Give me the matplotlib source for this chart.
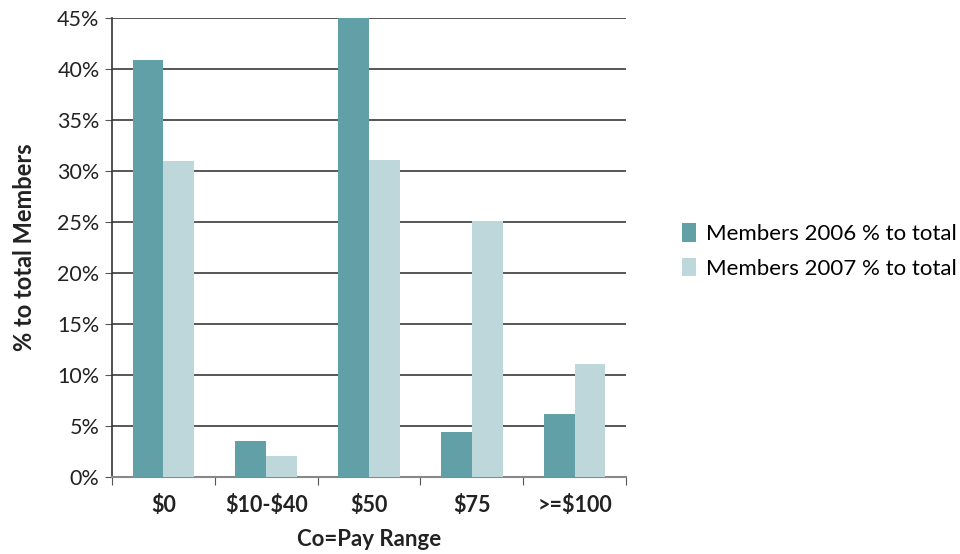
import matplotlib.pyplot as plt
import numpy as np

plt.rcParams['font.family'] = ['Lato', 'DejaVu Sans']

categories = ["\\$0", "\\$10-\\$40", "\\$50", "\\$75", ">=\\$100"]
members_2006 = [40.9, 3.5, 45.0, 4.4, 6.2]
members_2007 = [31.0, 2.1, 31.1, 25.1, 11.1]
y_ticks = [0, 5, 10, 15, 20, 25, 30, 35, 40, 45]

c2006 = "#62A0A8"
c2007 = "#BDD7DB"

fig = plt.figure(figsize=(9.6, 5.54), dpi=100)
ax = fig.add_axes([112 / 960, 1 - 477 / 554, 514 / 960, 459 / 554])

x = np.arange(len(categories))
w = 0.3
ax.bar(x - w / 2, members_2006, width=w, color=c2006, label="Members 2006 % to total", zorder=3)
ax.bar(x + w / 2, members_2007, width=w, color=c2007, label="Members 2007 % to total", zorder=3)

ax.set_xlim(-0.5, len(categories) - 0.5)
ax.set_ylim(0, 45)
ax.set_yticks(y_ticks)
ax.set_yticklabels([f"{t}%" for t in y_ticks], fontsize=15.5, color="#222222")
ax.yaxis.grid(True, color="#3a3a3a", linewidth=1.2, zorder=1)
ax.set_axisbelow(True)

ax.set_xticks(np.arange(len(categories) + 1) - 0.5, minor=False)
ax.set_xticklabels([])
ax.set_xticks(x, minor=True)
ax.set_xticklabels(categories, minor=True, fontsize=15.5, fontweight="bold", color="#222222")
ax.tick_params(axis="x", which="minor", length=0, pad=13)
ax.tick_params(axis="x", which="major", length=6, color="#555555", direction="out")
ax.tick_params(axis="y", length=5, color="#555555", direction="out", pad=4)

for s in ["top", "right"]:
    ax.spines[s].set_visible(False)
ax.spines["left"].set_color("#333333")
ax.spines["left"].set_linewidth(1.2)
ax.spines["bottom"].set_color("#888888")
ax.spines["bottom"].set_linewidth(1.5)

ax.set_xlabel("Co=Pay Range", fontsize=16, fontweight="bold", color="#222222", labelpad=9)
ax.set_ylabel("% to total Members", fontsize=17, fontweight="bold", color="#222222", labelpad=15)

fig.legend(loc="center left", bbox_to_anchor=(682 / 960, 1 - 251 / 554), frameon=False,
           borderpad=0, borderaxespad=0, fontsize=16, handlelength=0.65, handleheight=0.9,
           handletextpad=0.45, labelspacing=0.6)

fig.savefig("out.png", dpi=100)
